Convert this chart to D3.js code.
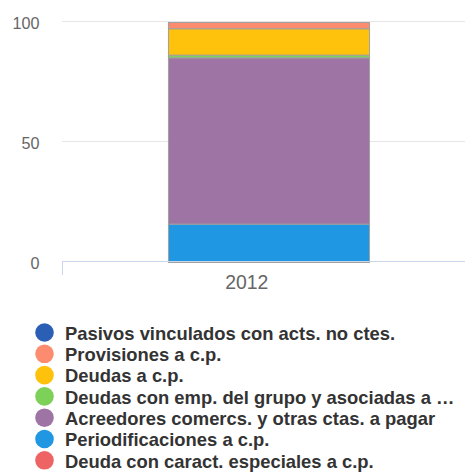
<!DOCTYPE html>
<html>
<head>
<meta charset="utf-8">
<script src="https://cdn.jsdelivr.net/npm/d3@7"></script>
<style>
  body { margin: 0; background: #fff; }
  svg { font-family: "Liberation Sans", Arial, sans-serif; }
</style>
</head>
<body>
<div id="chart"></div>
<script>
// data (percent of current liabilities)
let years = ["2012"];
let seriesNames = [
  "Pasivos vinculados con acts. no ctes.",
  "Provisiones a c.p.",
  "Deudas a c.p.",
  "Deudas con emp. del grupo y asociadas a c.p.",
  "Acreedores comercs. y otras ctas. a pagar",
  "Periodificaciones a c.p.",
  "Deuda con caract. especiales a c.p."
];
let seriesColors = ["#2b5fb5", "#fc8b70", "#fec10c", "#7dd058", "#9e74a5", "#1f97e3", "#ee6363"];
let values2012 = [0, 2.6, 11.0, 1.1, 69.3, 16.0, 0];
let yTicks = [0, 50, 100];

let width = 465, height = 473;
let plot = { left: 62, right: 475, top: 22, bottom: 262 };

let svg = d3.select("#chart").append("svg")
    .attr("width", width)
    .attr("height", height);

let x = d3.scaleBand()
    .domain(years)
    .range([plot.left, plot.right])
    .paddingInner(0)
    .paddingOuter(0.527);

let y = d3.scaleLinear()
    .domain([0, 100])
    .range([plot.bottom, plot.top]);

// grid lines
svg.append("g")
  .selectAll("line")
  .data(yTicks.filter(d => d > 0))
  .join("line")
    .attr("x1", plot.left)
    .attr("x2", width)
    .attr("y1", d => Math.round(y(d)) - 0.5)
    .attr("y2", d => Math.round(y(d)) - 0.5)
    .attr("stroke", "#e6e6e6")
    .attr("stroke-width", 1);

// y labels
svg.append("g")
  .selectAll("text")
  .data(yTicks)
  .join("text")
    .attr("x", 39.5)
    .attr("y", d => y(d) + 7.3)
    .attr("text-anchor", "end")
    .attr("fill", "#666")
    .style("font-size", "16.2px")
    .text(d => d);

// stacked bar, bottom series is the last one in the list
let stackData = [{ year: "2012" }];
seriesNames.forEach((n, i) => { stackData[0][n] = values2012[i]; });
let stack = d3.stack().keys(seriesNames.slice().reverse());
let layers = stack(stackData);

svg.append("g")
  .selectAll("rect")
  .data(layers.filter(l => l[0][1] - l[0][0] > 0))
  .join("rect")
    .attr("x", x("2012") + 0.5)
    .attr("width", x.bandwidth())
    .attr("y", d => y(d[0][1]) + 0.5)
    .attr("height", d => y(d[0][0]) - y(d[0][1]))
    .attr("fill", d => seriesColors[seriesNames.indexOf(d.key)])
    .attr("stroke", "#a0a0a0")
    .attr("stroke-width", 1);

// x axis
svg.append("line")
    .attr("x1", plot.left)
    .attr("x2", width)
    .attr("y1", plot.bottom - 0.5)
    .attr("y2", plot.bottom - 0.5)
    .attr("stroke", "#ccd6eb");
svg.append("line")
    .attr("x1", plot.left + 0.5)
    .attr("x2", plot.left + 0.5)
    .attr("y1", plot.bottom - 1)
    .attr("y2", plot.bottom + 13)
    .attr("stroke", "#ccd6eb");

svg.append("text")
    .attr("x", 246.7)
    .attr("y", 288.7)
    .attr("text-anchor", "middle")
    .attr("fill", "#666")
    .style("font-size", "19.4px")
    .text("2012");

// legend
let legend = svg.append("g");
let rows = legend.selectAll("g")
  .data(seriesNames)
  .join("g")
    .attr("transform", (d, i) => `translate(0, ${332.5 + i * 21.3})`);

rows.append("circle")
    .attr("cx", 44.5)
    .attr("cy", 0)
    .attr("r", 9.3)
    .attr("fill", (d, i) => seriesColors[i]);

rows.append("text")
    .attr("x", 65)
    .attr("y", 7.3)
    .attr("fill", "#333")
    .style("font-size", "18.4px")
    .style("font-weight", "bold")
    .text(d => d)
    .each(function () {
      // trim long labels with an ellipsis like the original
      let t = d3.select(this);
      let full = t.text();
      let maxW = 392;
      if (this.getComputedTextLength() > maxW) {
        let s = full;
        while (s.length > 0 && this.getComputedTextLength() > maxW) {
          s = s.slice(0, -1);
          t.text(s.trimEnd() + " …");
        }
      }
    });
</script>
</body>
</html>
